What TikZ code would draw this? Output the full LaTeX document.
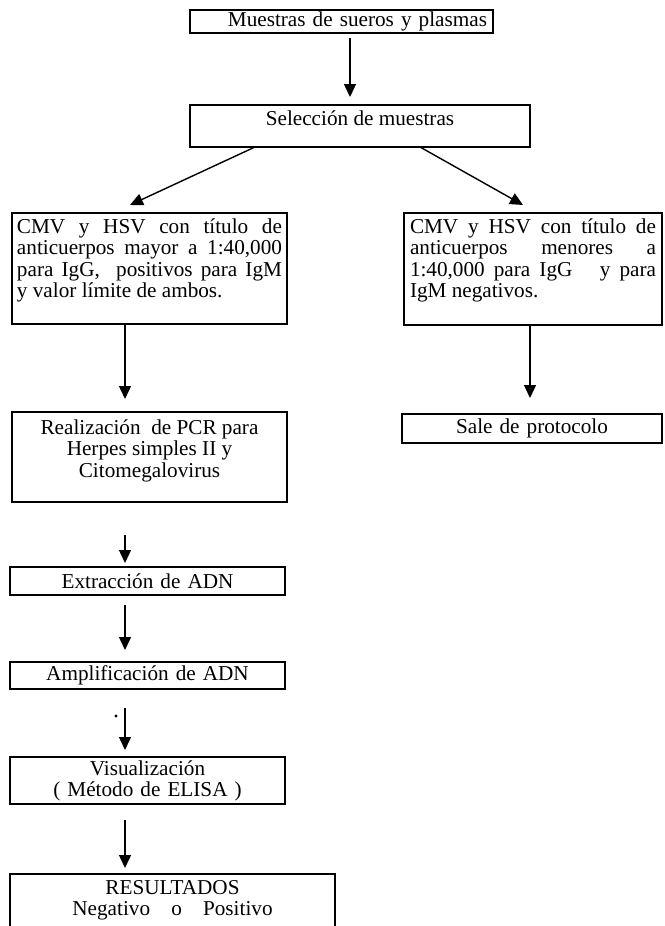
\documentclass[tikz,border=0pt]{standalone}
\usepackage{fontspec}
\setmainfont{Liberation Serif}
\usepackage{tikz}
\usetikzlibrary{arrows.meta}
\tikzset{
caja/.style={
  draw,
  line width=0.8pt,
  inner xsep=3pt,
  inner ysep=0pt,
  outer sep=0pt,
  font=\fontsize{10.6}{10.6}\selectfont
},
flecha/.style={
  line width=0.7pt,
  -{Triangle[width=6pt,length=6.5pt]}
},
}
\newcommand{\cajat}[3]{\parbox[t][#2][t]{#1}{#3}}

\begin{document}
\begin{tikzpicture}[x=0.5pt,y=-0.5pt]
\useasboundingbox (0,0) rectangle (664,926);
\clip (0,0) rectangle (664,926);
% the boxes
\node[caja, text width=145.5pt, align=right, minimum height=11.5pt] (muestras) at (341.5,21.5) {Muestras de sueros y plasmas};
\node[caja, inner ysep=3pt] (seleccion) at (360,126) {\cajat{164pt}{15pt}{\centering Selección de muestras}};
\node[caja, inner xsep=2.5pt, inner ysep=3pt] (mayor) at (149.5,268.5) {\cajat{132.5pt}{49.5pt}{CMV y HSV con título de\linebreak anticuerpos mayor a 1:40,000\linebreak para IgG,\ \ positivos para IgM\linebreak y valor límite de ambos.}};
\node[caja, inner ysep=3pt] (menor) at (533,269) {\cajat{123pt}{50pt}{CMV y HSV con título de\linebreak anticuerpos menores a\linebreak 1:40,000 para IgG\ \ \ y para\linebreak IgM negativos.}};
\node[caja, inner xsep=2.5pt, inner ysep=4pt] (pcr) at (149.5,457) {\cajat{132.5pt}{37pt}{\centering Realización\ \ de PCR para\\ Herpes simples II y\\ Citomegalovirus}};
\node[caja, text width=124pt, align=center, minimum height=14.5pt] (sale) at (532,428.5) {Sale de protocolo};
\node[caja, text width=131.5pt, align=center, minimum height=14pt] (extraccion) at (147.5,581) {Extracción de ADN};
\node[caja, text width=131.5pt, align=center, minimum height=13.5pt] (amplificacion) at (147.5,675.5) {Amplificación de ADN};
\node[caja, text width=131.5pt, align=center, minimum height=23.5pt] (visualizacion) at (147.5,780.5) {Visualización\\( Método de ELISA )};
\node[caja, inner ysep=3pt] (resultados) at (172.5,917) {\cajat{156.5pt}{37pt}{\centering RESULTADOS\\ Negativo\quad o\quad Positivo}};
% the arrows
\coordinate (ejecentro) at (350,0);
\coordinate (ejeizq) at (125,0);
\coordinate (ejeder) at (530,0);
\draw[flecha, shorten <=2.5pt, shorten >=4pt] (muestras.south -| ejecentro) -- (seleccion.north -| ejecentro);
\draw[flecha] ([xshift=-52.5pt]seleccion.south) -- ([xshift=-9.75pt,yshift=4pt]mayor.north);
\draw[flecha] ([xshift=30pt]seleccion.south) -- ([xshift=-5pt,yshift=4pt]menor.north);
\draw[flecha, shorten >=8pt] (menor.south -| ejeder) -- (sale.north -| ejeder);
\foreach \a/\b/\s/\e in {mayor/pcr/0pt/6.5pt, pcr/extraccion/16.5pt/2pt, extraccion/amplificacion/5pt/6pt, amplificacion/visualizacion/9.5pt/3.5pt, visualizacion/resultados/8pt/3pt}
{
  \draw[flecha, shorten <=\s, shorten >=\e] (\a.south -| ejeizq) -- (\b.north -| ejeizq);
}
\fill (116,716) circle (0.8pt);
\end{tikzpicture}
\end{document}
